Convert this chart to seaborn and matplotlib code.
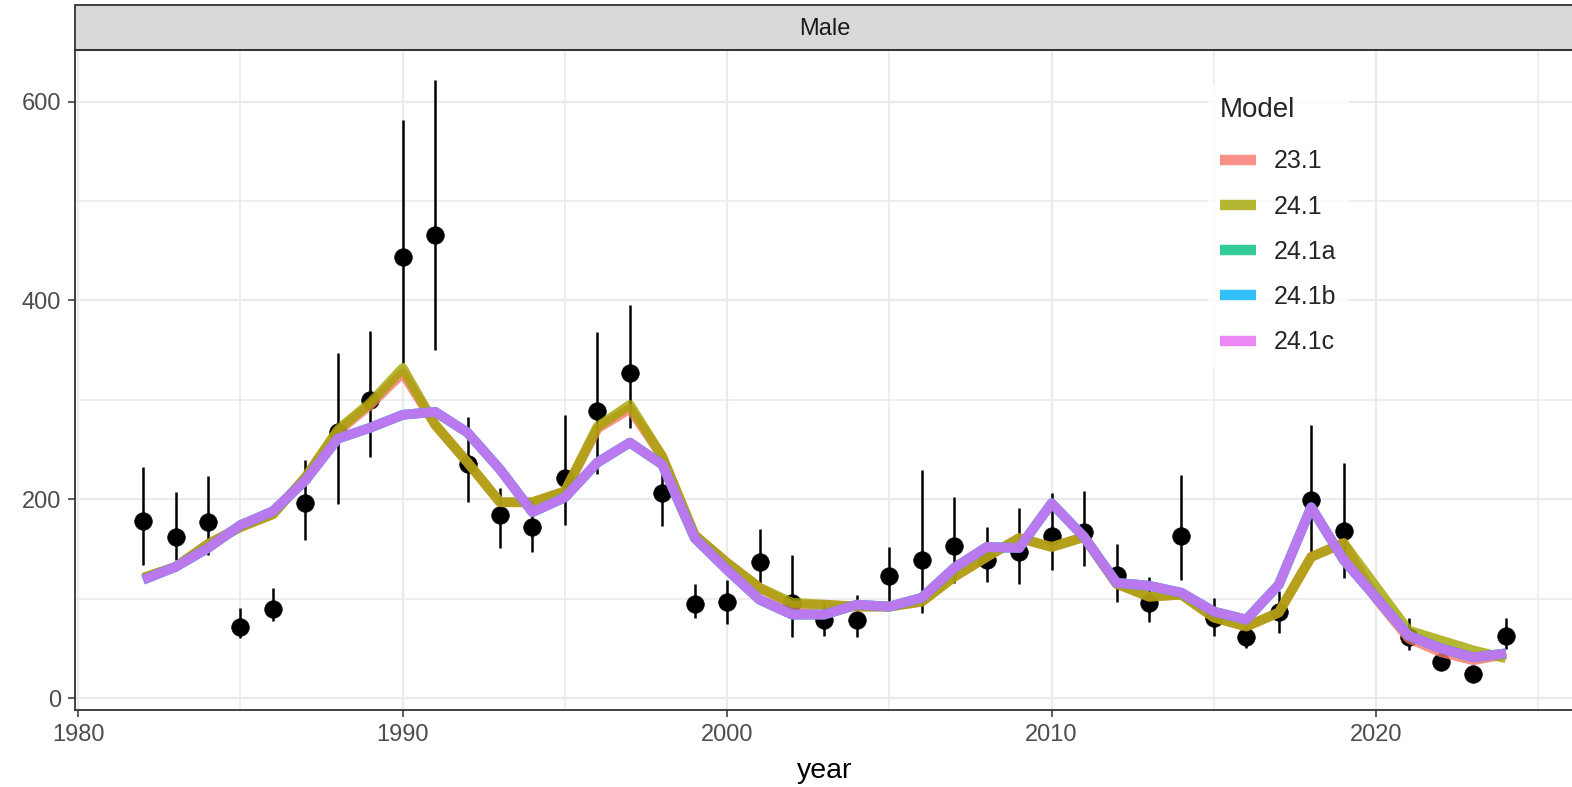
import numpy as np
import pandas as pd
import matplotlib
matplotlib.use("Agg")
import matplotlib.pyplot as plt
from matplotlib.lines import Line2D
from matplotlib.patches import Rectangle
import seaborn as sns

# ---- observed index with intervals ----
obs_year = [1982, 1983, 1984, 1985, 1986, 1987, 1988, 1989, 1990, 1991, 1992, 1993,
            1994, 1995, 1996, 1997, 1998, 1999, 2000, 2001, 2002, 2003, 2004, 2005,
            2006, 2007, 2008, 2009, 2010, 2011, 2012, 2013, 2014, 2015, 2016, 2017,
            2018, 2019, 2021, 2022, 2023, 2024]
obs_value = [178, 162, 177, 72, 90, 196, 268, 300, 444, 466, 235, 184,
             172, 221, 289, 327, 206, 95, 97, 137, 96, 79, 79, 123,
             139, 153, 139, 147, 163, 167, 124, 96, 163, 81, 61, 87,
             199, 168, 61, 36, 24, 62]
obs_lower = [134, 139, 144, 60, 78, 159, 195, 243, 337, 350, 197, 151,
             147, 174, 225, 272, 173, 81, 75, 116, 61, 62, 61, 96,
             86, 116, 117, 115, 129, 133, 97, 77, 119, 62, 50, 65,
             146, 121, 48, 30, 18, 49]
obs_upper = [232, 207, 223, 91, 111, 240, 347, 369, 582, 622, 283, 211,
             199, 285, 368, 395, 245, 115, 119, 170, 144, 97, 104, 152,
             229, 202, 172, 191, 206, 208, 155, 122, 224, 101, 73, 108,
             275, 237, 81, 44, 32, 81]

# ---- model fits ----
model_year = list(range(1982, 2025))
model_names = ["23.1", "24.1", "24.1a", "24.1b", "24.1c"]
fit_23_1 = [121, 132, 155, 172, 185, 222, 268, 295, 327, 275, 237, 197,
            197, 208, 271, 291, 243, 164, 136, 111, 93, 94, 92, 92,
            97, 122, 142, 161, 152, 162, 115, 102, 104, 81, 72, 86,
            142, 156, 100, 60, 46, 38, 44]
fit_24_1 = [121, 132, 155, 172, 185, 222, 270, 297, 332, 275, 237, 197,
            197, 208, 273, 295, 243, 164, 136, 111, 96, 94, 92, 92,
            97, 122, 142, 161, 152, 162, 115, 102, 104, 81, 72, 86,
            142, 156, 112, 68, 58, 48, 40]
fit_24_1c = [119, 132, 151, 174, 188, 219, 261, 272, 285, 288, 267, 230,
             187, 202, 237, 257, 235, 161, 129, 99, 84, 84, 94, 92,
             101, 131, 152, 151, 196, 162, 116, 113, 106, 87, 79, 114,
             192, 139, 101, 63, 50, 41, 45]
fit_24_1a = list(fit_24_1c)
fit_24_1b = list(fit_24_1c)

model_colors = ["#F8766D", "#A3A500", "#00BF7D", "#00B0F6", "#E76BF3"]

fits = pd.DataFrame({
    "year": np.tile(model_year, len(model_names)),
    "value": np.concatenate([fit_23_1, fit_24_1, fit_24_1a, fit_24_1b, fit_24_1c]),
    "Model": np.repeat(model_names, len(model_year)),
})
obs = pd.DataFrame({"year": obs_year, "value": obs_value,
                    "lower": obs_lower, "upper": obs_upper})

sns.set_theme(style="white")
plt.rcParams["font.family"] = ["Liberation Sans", "DejaVu Sans"]

fig = plt.figure(figsize=(15.72, 7.87), dpi=100)
ax = fig.add_axes([75 / 1572, 77 / 787, 1499 / 1572, 660 / 787])

# grid (major + minor) in the ggplot theme_bw look
for x in range(1980, 2030, 5):
    ax.axvline(x, color="#EBEBEB", lw=1.6 if x % 10 == 0 else 1.2, zorder=0)
for y in range(0, 700, 100):
    ax.axhline(y, color="#EBEBEB", lw=1.6 if y % 200 == 0 else 1.2, zorder=0)

# observations: point + interval
ax.vlines(obs["year"], obs["lower"], obs["upper"], color="black", lw=1.8, zorder=2)
sns.scatterplot(data=obs, x="year", y="value", color="black", s=160,
                edgecolor="black", linewidth=0.5, ax=ax, zorder=3, legend=False)

# model fits
sns.lineplot(data=fits, x="year", y="value", hue="Model", hue_order=model_names,
             palette=dict(zip(model_names, model_colors)), linewidth=7.0,
             alpha=0.8, ax=ax, zorder=4, legend=False, solid_capstyle="butt")

ax.set_xlim(1979.9, 2026.1)
ax.set_ylim(-12, 652)
ax.set_xticks([1980, 1990, 2000, 2010, 2020])
ax.set_yticks([0, 200, 400, 600])
ax.tick_params(axis="both", labelsize=17, colors="#4D4D4D", length=5,
               width=1.1, direction="out", bottom=True, left=True, pad=5)
for t in ax.get_xticklabels() + ax.get_yticklabels():
    t.set_color("#4D4D4D")
ax.tick_params(axis="both", color="#333333")
ax.set_xlabel("year", fontsize=20.5, color="black", labelpad=9)
ax.set_ylabel("")
for s in ax.spines.values():
    s.set_color("#333333")
    s.set_linewidth(1.3)

# facet strip
strip = Rectangle((0, 1.0), 1.0, 45 / 660, transform=ax.transAxes,
                  facecolor="#D9D9D9", edgecolor="#333333", lw=1.3, clip_on=False)
ax.add_patch(strip)
ax.text((825 - 75) / 1499, 1.0 + 21 / 660, "Male", transform=ax.transAxes,
        ha="center", va="center", fontsize=17, color="#1A1A1A")

# legend
handles = [Line2D([0], [0], color=c, lw=7.5, alpha=0.8, solid_capstyle="butt")
           for c in model_colors]
leg = ax.legend(handles, model_names, title="Model", loc="upper left",
                bbox_to_anchor=((1195 - 75) / 1499, (710 - 72) / 660),
                frameon=True, fontsize=18, title_fontsize=20,
                handlelength=1.45, handletextpad=0.7, labelspacing=0.85,
                borderpad=0.5, alignment="left")
leg._legend_box.sep = 19  # extra room between title and keys
leg.get_frame().set_facecolor("white")
leg.get_frame().set_edgecolor("white")
leg.get_frame().set_linewidth(0)
leg.get_frame().set_boxstyle("square", pad=0)

fig.savefig("out.png", dpi=100)
